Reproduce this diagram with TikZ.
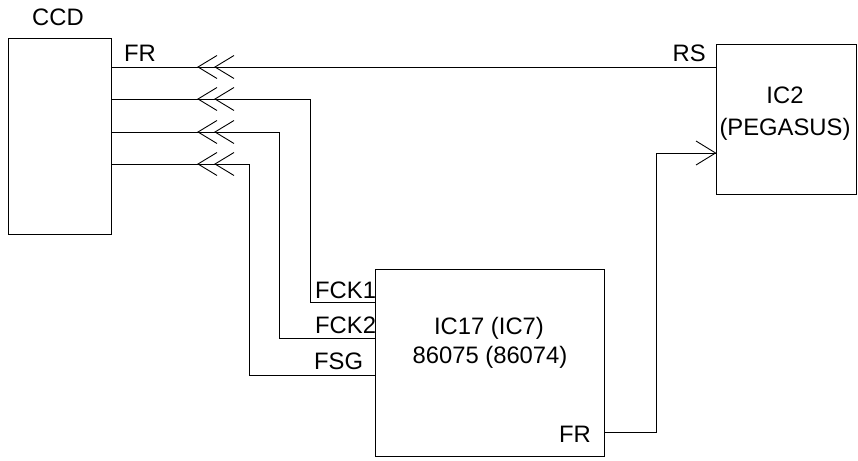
\documentclass[tikz,border=0pt]{standalone}
\usepackage{fontspec}
\setmainfont{Liberation Sans}
\begin{document}
\begin{tikzpicture}[x=1pt,y=-1pt,
  box/.style={draw,line width=0.9pt,inner sep=0pt},
  wire/.style={line width=0.9pt},
  lbl/.style={font=\fontsize{23.8}{26}\selectfont,inner sep=0pt},
  chev/.pic={\draw[line width=0.9pt] (19,-11.5) -- (0,0) -- (19,11.5);}]
\useasboundingbox (0,0) rectangle (858,460);
% boxes
\node[box,minimum width=103pt,minimum height=196pt] (ccd) at (59.5,136) {};
\node[box,minimum width=229pt,minimum height=187pt] (ic17) at (489.5,362.5) {};
\node[box,minimum width=140pt,minimum height=150pt] (ic2) at (786,119) {};
% labels
\node[lbl,anchor=base] (tccd) at (58,26) {CCD};
\node[lbl,anchor=base west] (tfr) at (124,61) {FR};
\node[lbl,anchor=base east] (trs) at (706,61) {RS};
\node[lbl,anchor=base] (tic2a) at (785,103) {IC2};
\node[lbl,anchor=base] (tic2b) at (785,135) {(PEGASUS)};
\node[lbl,anchor=base] (tic17a) at (489,334) {IC17 (IC7)};
\node[lbl,anchor=base] (tic17b) at (490,363) {86075 (86074)};
\node[lbl,anchor=base west] (tfck1) at (315,298) {FCK1};
\node[lbl,anchor=base west] (tfck2) at (315,333) {FCK2};
\node[lbl,anchor=base west] (tfsg) at (314,369) {FSG};
\node[lbl,anchor=base east] (tfr2) at (591,442) {FR};
% coordinates
\coordinate (c1) at (ccd.east |- 0,67);
\coordinate (c2) at (ccd.east |- 0,99);
\coordinate (c3) at (ccd.east |- 0,132);
\coordinate (c4) at (ccd.east |- 0,164);
\coordinate (rs) at (ic2.west |- 0,67);
\coordinate (in2) at (ic2.west |- 0,153);
\coordinate (fck1) at (ic17.west |- 0,302);
\coordinate (fck2) at (ic17.west |- 0,338);
\coordinate (fsg) at (ic17.west |- 0,375);
\coordinate (fro) at (ic17.east |- 0,432);
% wires
\draw[wire] (rs) -- (c1);
\draw[wire] (fck1) -| (310,99) -- (c2);
\draw[wire] (fck2) -| (279,132) -- (c3);
\draw[wire] (fsg) -| (249,164) -- (c4);
\draw[wire] (fro) -| (656,153) -- (in2);
\draw[line width=0.9pt] (696,141) -- (in2) -- (696,165);
% double chevrons
\foreach \yy in {67,99,132,164}{
  \pic at (198,\yy) {chev};
  \pic at (215,\yy) {chev};
}
\end{tikzpicture}
\end{document}
